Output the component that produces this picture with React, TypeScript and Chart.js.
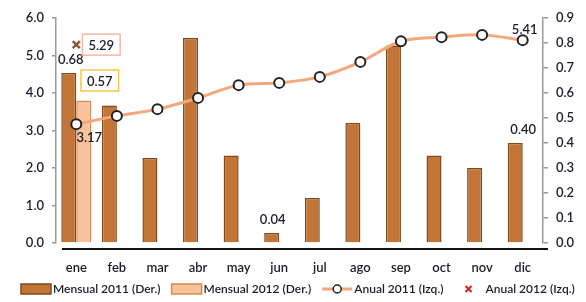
import React, { useEffect, useRef } from 'react';
import { Chart, registerables } from 'chart.js';

Chart.register(...registerables);

// Monthly and annual inflation figures
const months = ['ene', 'feb', 'mar', 'abr', 'may', 'jun', 'jul', 'ago', 'sep', 'oct', 'nov', 'dic'];
const mensual2011 = [0.68, 0.55, 0.34, 0.82, 0.35, 0.04, 0.18, 0.48, 0.79, 0.35, 0.30, 0.40];
const mensual2012: (number | null)[] = [0.57, null, null, null, null, null, null, null, null, null, null, null];
const anual2011 = [3.17, 3.39, 3.57, 3.87, 4.21, 4.27, 4.43, 4.83, 5.38, 5.49, 5.55, 5.41];
const anual2012: (number | null)[] = [5.29, null, null, null, null, null, null, null, null, null, null, null];

const leftAxis = { min: 0, max: 6, step: 1 };
const rightAxis = { min: 0, max: 0.9, step: 0.1 };

const seriesNames = ['Mensual 2011 (Der.)', 'Mensual 2012 (Der.)', 'Anual 2011 (Izq.)', 'Anual 2012 (Izq.)'];

const FONT = 'Lato, "Open Sans", sans-serif';
const INK = '#1c1c2a';
const BAR11 = '#c27536';
const BAR11_EDGE = '#7f4a1e';
const BAR12 = '#f8c39a';
const BAR12_EDGE = '#d88a4e';
const LINE11 = '#f5a67a';
const MARK12 = '#8a5a3c';

// which values get a printed label: dataset index, point index, offset, optional frame colour
const valueLabels = [
  { ds: 0, i: 0, dx: 2, dy: -14 },
  { ds: 1, i: 0, dx: 16, dy: -20, frame: '#f2c94a' },
  { ds: 3, i: 0, dx: 25, dy: 0, frame: '#f2b8a6' },
  { ds: 2, i: 0, dx: 13, dy: 13 },
  { ds: 0, i: 5, dx: 1, dy: -14 },
  { ds: 2, i: 11, dx: 2, dy: -11 },
  { ds: 0, i: 11, dx: 8, dy: -14 },
];

const annotate = {
  id: 'annotate',
  afterDatasetsDraw(chart: any) {
    const ctx = chart.ctx;
    ctx.save();
    ctx.font = `600 13px ${FONT}`;
    ctx.textAlign = 'center';
    ctx.textBaseline = 'middle';
    for (const l of valueLabels) {
      const el = chart.getDatasetMeta(l.ds).data[l.i];
      const v = chart.data.datasets[l.ds].data[l.i] as number;
      const text = v.toFixed(2);
      const x = el.x + l.dx;
      const y = el.y + l.dy;
      if (l.frame) {
        const w = ctx.measureText(text).width + 12;
        const h = 21;
        ctx.fillStyle = '#ffffff';
        ctx.fillRect(x - w / 2, y - h / 2, w, h);
        ctx.strokeStyle = l.frame;
        ctx.lineWidth = 1.5;
        ctx.strokeRect(x - w / 2, y - h / 2, w, h);
      }
      ctx.fillStyle = INK;
      ctx.fillText(text, x, y + 1);
    }
    ctx.restore();
  },
};

const baseline = {
  id: 'baseline',
  afterDraw(chart: any) {
    const { ctx, chartArea } = chart;
    ctx.save();
    ctx.strokeStyle = '#111111';
    ctx.lineWidth = 2;
    ctx.beginPath();
    ctx.moveTo(chartArea.left + 6, chartArea.bottom + 6);
    ctx.lineTo(chartArea.right + 5, chartArea.bottom + 6);
    ctx.stroke();
    ctx.restore();
  },
};

const legend = {
  id: 'customLegend',
  afterDraw(chart: any) {
    const ctx = chart.ctx;
    const y = 289;
    ctx.save();
    ctx.font = `600 12px ${FONT}`;
    ctx.textBaseline = 'middle';
    ctx.textAlign = 'left';
    let x = 21;
    const gap = 11;
    const drawText = (t: string) => {
      ctx.fillStyle = INK;
      ctx.fillText(t, x, y);
      x += ctx.measureText(t).width + gap;
    };
    const swatch = (fill: string, edge: string) => {
      ctx.fillStyle = fill;
      ctx.fillRect(x, y - 5, 30, 10);
      ctx.strokeStyle = edge;
      ctx.lineWidth = 1.5;
      ctx.strokeRect(x, y - 5, 30, 10);
      x += 32;
    };
    swatch(BAR11, BAR11_EDGE);
    drawText(seriesNames[0]);
    swatch(BAR12, BAR12_EDGE);
    drawText(seriesNames[1]);
    // line with marker
    ctx.strokeStyle = LINE11;
    ctx.lineWidth = 3;
    ctx.beginPath();
    ctx.moveTo(x, y);
    ctx.lineTo(x + 30, y);
    ctx.stroke();
    ctx.beginPath();
    ctx.arc(x + 15, y, 4, 0, Math.PI * 2);
    ctx.fillStyle = '#ffffff';
    ctx.fill();
    ctx.strokeStyle = '#222222';
    ctx.lineWidth = 1.5;
    ctx.stroke();
    x += 32;
    drawText(seriesNames[2]);
    // cross marker
    x += 14;
    ctx.strokeStyle = '#d42020';
    ctx.lineWidth = 2;
    ctx.beginPath();
    ctx.moveTo(x - 3, y - 3);
    ctx.lineTo(x + 3, y + 3);
    ctx.moveTo(x + 3, y - 3);
    ctx.lineTo(x - 3, y + 3);
    ctx.stroke();
    x += 17;
    drawText(seriesNames[3]);
    ctx.restore();
  },
};

export default function App() {
  const ref = useRef<HTMLCanvasElement | null>(null);

  useEffect(() => {
    if (!ref.current) return;
    const chart = new Chart(ref.current, {
      data: {
        labels: months,
        datasets: [
          {
            type: 'bar',
            label: seriesNames[0],
            data: mensual2011,
            yAxisID: 'y1',
            backgroundColor: BAR11,
            borderColor: BAR11_EDGE,
            borderWidth: 1.5,
            categoryPercentage: 0.74,
            barPercentage: 1,
            order: 2,
          },
          {
            type: 'bar',
            label: seriesNames[1],
            data: mensual2012,
            yAxisID: 'y1',
            backgroundColor: BAR12,
            borderColor: BAR12_EDGE,
            borderWidth: 1.5,
            categoryPercentage: 0.74,
            barPercentage: 1,
            order: 3,
          },
          {
            type: 'line',
            label: seriesNames[2],
            data: anual2011,
            yAxisID: 'y',
            borderColor: LINE11,
            borderWidth: 3,
            tension: 0.35,
            pointRadius: 5,
            pointBackgroundColor: '#ffffff',
            pointBorderColor: '#222222',
            pointBorderWidth: 2,
            order: 1,
          },
          {
            type: 'line',
            label: seriesNames[3],
            data: anual2012,
            yAxisID: 'y',
            showLine: false,
            pointStyle: 'crossRot',
            pointRadius: 5,
            pointBorderColor: MARK12,
            pointBorderWidth: 2.5,
            order: 0,
          },
        ],
      } as any,
      options: {
        responsive: false,
        animation: false,
        devicePixelRatio: 1,
        layout: { padding: { top: 18, left: 0, right: 0, bottom: 0 } },
        plugins: { legend: { display: false }, tooltip: { enabled: false } },
        scales: {
          x: {
            grid: { display: false, drawTicks: false },
            border: { display: false },
            ticks: { color: INK, font: { family: FONT, size: 13, weight: 600 }, padding: 17 },
            afterFit: (s: any) => { s.height = 59; },
          },
          y: {
            position: 'left',
            min: leftAxis.min,
            max: leftAxis.max,
            ticks: {
              stepSize: leftAxis.step,
              color: INK,
              font: { family: FONT, size: 13, weight: 600 },
              padding: 8,
              callback: (v: any) => Number(v).toFixed(1),
            },
            grid: { drawOnChartArea: false, tickLength: 4, color: '#9a9a9a', lineWidth: 1.5 },
            border: { display: true, color: '#9a9a9a', width: 1.5 },
            afterFit: (s: any) => { s.width = 56; },
          },
          y1: {
            position: 'right',
            min: rightAxis.min,
            max: rightAxis.max,
            ticks: {
              stepSize: rightAxis.step,
              color: INK,
              font: { family: FONT, size: 13, weight: 600 },
              padding: 8,
              callback: (v: any) => Number(v).toFixed(1),
            },
            grid: { drawOnChartArea: false, tickLength: 5, color: '#9a9a9a', lineWidth: 1.5 },
            border: { display: true, color: '#9a9a9a', width: 1.5 },
            afterFit: (s: any) => { s.width = 43; },
          },
        },
      } as any,
      plugins: [annotate, baseline, legend],
    });
    return () => chart.destroy();
  }, []);

  return (
    <div style={{ position: 'fixed', left: 0, top: 0, width: 586, height: 302, background: '#ffffff' }}>
      <canvas ref={ref} width={586} height={302} style={{ width: 586, height: 302, display: 'block' }} />
    </div>
  );
}
